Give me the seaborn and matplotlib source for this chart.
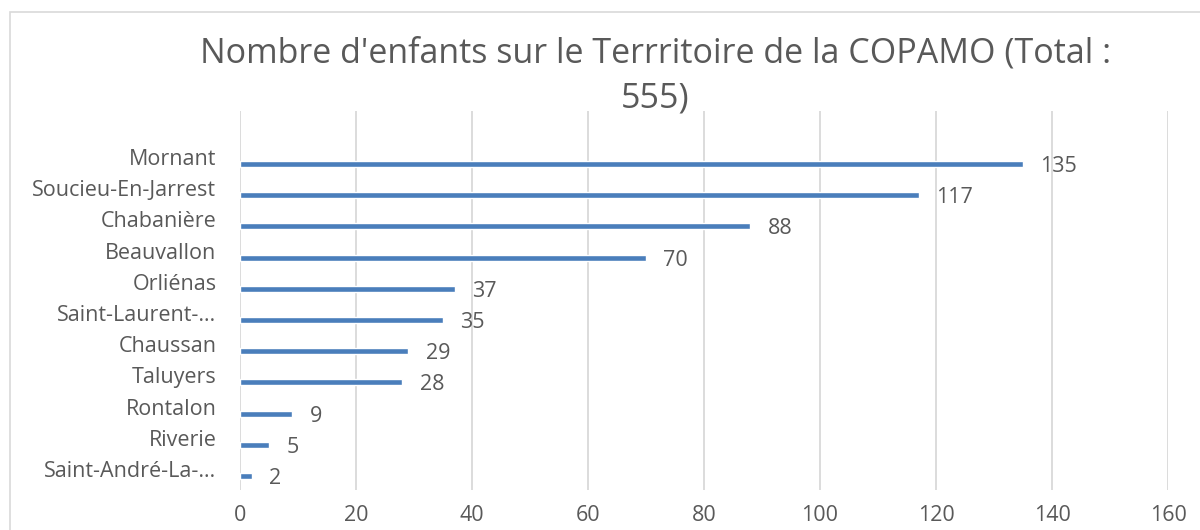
import seaborn as sns
import matplotlib.pyplot as plt
from matplotlib.patches import Rectangle
from matplotlib.transforms import ScaledTranslation

communes = ["Mornant", "Soucieu-En-Jarrest", "Chabanière", "Beauvallon", "Orliénas",
            "Saint-Laurent-…", "Chaussan", "Taluyers", "Rontalon", "Riverie",
            "Saint-André-La-…"]
enfants = [135, 117, 88, 70, 37, 35, 29, 28, 9, 5, 2]
xticks = [0, 20, 40, 60, 80, 100, 120, 140, 160]

sns.set_style("white")
plt.rcParams['font.family'] = ['Open Sans', 'DejaVu Sans']
txt = "#595959"
bar_color = "#4A7EBB"

fig = plt.figure(figsize=(12, 5.3), dpi=100)
ax = fig.add_axes([0.2, 40 / 530, 928 / 1200, 379 / 530])

sns.barplot(x=enfants, y=communes, orient="h", color=bar_color, saturation=1,
            width=0.19, ax=ax)

ax.set_xlim(0, 160)
ax.set_ylim(10.45, -1.70)
ax.set_xticks(xticks)
ax.set_xticklabels([str(t) for t in xticks], fontsize=15.5, color=txt)
ax.grid(axis="x", color="#D9D9D9", linewidth=1.3)
ax.set_axisbelow(True)
ax.tick_params(axis="x", length=0, pad=11)
ax.tick_params(axis="y", length=0, pad=17)
ax.set_ylabel("")
for s in ax.spines.values():
    s.set_visible(False)

# category labels sit slightly above the bars
off = ScaledTranslation(0, 7 / 100, fig.dpi_scale_trans)
for lab in ax.get_yticklabels():
    lab.set_fontsize(15.5)
    lab.set_color(txt)
    lab.set_transform(lab.get_transform() + off)

for i, v in enumerate(enfants):
    ax.text(v + 3, i + 0.08, str(v), va="center", ha="left", fontsize=15.5, color=txt)

fig.text(0.546, 0.90, "Nombre d'enfants sur le Terrritoire de la COPAMO (Total :",
         ha="center", va="center", fontsize=24.5, color=txt)
fig.text(0.546, 0.815, "555)", ha="center", va="center", fontsize=24.5, color=txt)

fig.patches.append(Rectangle((10 / 1200, -0.1), 1.2, (530 - 12) / 530 + 0.1,
                             transform=fig.transFigure, fill=False,
                             edgecolor="#D9D9D9", linewidth=1.2))

fig.savefig("out.png", dpi=100)
